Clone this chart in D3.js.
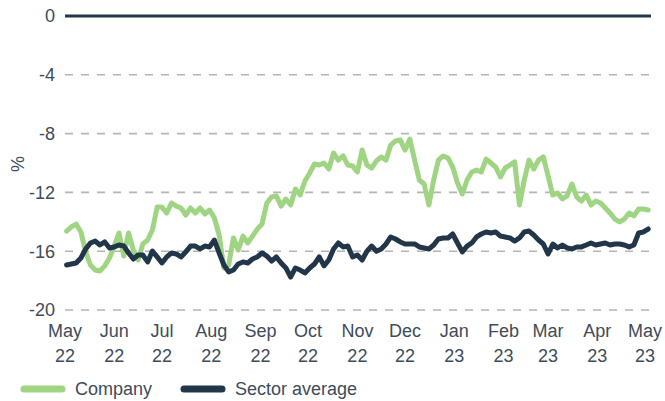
<!DOCTYPE html>
<html><head><meta charset="utf-8">
<script src="https://cdn.jsdelivr.net/npm/d3@7"></script>
<style>
html,body{margin:0;padding:0;background:#fff;}
svg text{font-family:"Liberation Sans",Arial,sans-serif;fill:#3e4b59;}
</style></head>
<body>
<svg id="c" width="665" height="401"></svg>
<script>
// Data: values sampled every 3 days starting 2 May 2022
const startDate = "2022-05-02";
const stepDays = 3;
const company = [-14.63,-14.35,-14.15,-14.69,-16.05,-16.94,-17.28,-17.35,-17.0,-16.46,
-15.65,-14.76,-16.33,-14.76,-15.92,-16.6,-15.5,-15.24,-14.56,-13.0,
-13.0,-13.4,-12.72,-12.93,-13.06,-13.54,-13.06,-13.4,-13.06,-13.47,
-13.2,-13.74,-14.9,-17.14,-16.94,-15.1,-15.92,-14.97,-15.44,-14.97,
-14.5,-14.15,-12.72,-12.31,-12.24,-12.93,-12.45,-12.86,-11.77,-12.18,
-11.22,-10.68,-10.07,-10.14,-10.0,-10.41,-9.32,-9.8,-9.52,-10.14,
-10.2,-10.61,-9.12,-10.14,-10.34,-9.86,-9.59,-9.8,-8.78,-8.5,
-8.44,-9.12,-8.37,-9.8,-11.16,-11.43,-12.86,-11.16,-9.8,-9.52,
-9.66,-10.27,-11.36,-12.11,-11.16,-10.61,-10.48,-10.61,-9.73,-10.0,
-10.27,-10.95,-10.34,-10.14,-9.93,-12.86,-11.16,-9.8,-10.41,-9.8,
-9.59,-10.88,-12.18,-12.04,-12.45,-12.24,-11.43,-12.31,-12.59,-12.18,
-12.86,-12.59,-12.72,-13.06,-13.4,-13.81,-14.01,-13.81,-13.4,-13.6,
-13.13,-13.13,-13.2];
const sector = [-16.94,-16.87,-16.8,-16.46,-15.85,-15.44,-15.31,-15.58,-15.37,-15.78,
-15.71,-15.58,-15.65,-16.12,-16.53,-16.26,-16.26,-16.73,-15.99,-16.39,
-16.8,-16.39,-16.12,-16.19,-16.39,-16.05,-15.65,-15.65,-15.85,-15.65,
-15.71,-15.24,-16.12,-16.94,-17.41,-17.28,-16.87,-16.73,-16.8,-16.53,
-16.39,-16.12,-16.33,-16.67,-16.39,-16.8,-17.14,-17.76,-17.14,-17.28,
-17.48,-17.14,-16.87,-16.39,-17.0,-16.6,-15.85,-15.44,-15.71,-15.65,
-16.39,-16.26,-16.6,-16.0,-15.65,-16.0,-15.85,-15.51,-15.03,-15.17,
-15.37,-15.51,-15.51,-15.51,-15.71,-15.78,-15.85,-15.58,-15.17,-15.1,
-15.1,-14.83,-15.44,-16.05,-15.65,-15.44,-15.03,-14.83,-14.69,-14.76,
-14.69,-14.97,-15.03,-15.1,-15.31,-15.1,-14.69,-14.63,-14.9,-15.24,
-15.51,-16.19,-15.51,-15.78,-15.58,-15.78,-15.85,-15.71,-15.71,-15.58,
-15.44,-15.58,-15.51,-15.44,-15.58,-15.51,-15.51,-15.58,-15.71,-15.58,
-14.76,-14.69,-14.49];
const yTicks = [0,-4,-8,-12,-16,-20];
const monthTicks = ["2022-05-01","2022-06-01","2022-07-01","2022-08-01","2022-09-01","2022-10-01",
"2022-11-01","2022-12-01","2023-01-01","2023-02-01","2023-03-01","2023-04-01","2023-05-01"];
const seriesNames = ["Company","Sector average"];
const colors = ["#9fd482","#22364a"];

const parse = d3.timeParse("%Y-%m-%d");
const t0 = parse(startDate);
const dates = company.map((_, i) => d3.timeDay.offset(t0, i * stepDays));

const svg = d3.select("#c");
const x = d3.scaleTime().domain([parse("2022-05-01"), parse("2023-05-01")]).range([65, 645]);
const y = d3.scaleLinear().domain([-20, 0]).range([310, 16]);

// grid
svg.append("g").selectAll("line").data(yTicks.filter(d => d !== 0)).join("line")
  .attr("x1", 65).attr("x2", 651)
  .attr("y1", d => y(d)).attr("y2", d => y(d))
  .attr("stroke", "#b4b4b4").attr("stroke-width", 1.6).attr("stroke-dasharray", "8,8");

// y tick labels
svg.append("g").selectAll("text").data(yTicks).join("text")
  .attr("x", 55).attr("y", d => y(d)).attr("dy", "0.36em")
  .attr("text-anchor", "end").attr("font-size", 18).text(d => d);

svg.append("text").attr("transform", "translate(24,164) rotate(-90)")
  .attr("text-anchor", "middle").attr("font-size", 18).text("%");

// x tick labels
const xt = svg.append("g").selectAll("g").data(monthTicks.map(parse)).join("g")
  .attr("transform", d => `translate(${x(d)},0)`);
xt.append("text").attr("y", 337).attr("text-anchor", "middle").attr("font-size", 18)
  .text(d => d3.timeFormat("%b")(d));
xt.append("text").attr("y", 362).attr("text-anchor", "middle").attr("font-size", 18)
  .text(d => d3.timeFormat("%y")(d));

// lines
const line = d3.line().x((d, i) => x(dates[i])).y(d => y(d)).curve(d3.curveLinear);
svg.append("path").datum(company).attr("d", line).attr("fill", "none")
  .attr("stroke", colors[0]).attr("stroke-width", 5).attr("stroke-linejoin", "round").attr("stroke-linecap", "round");
svg.append("path").datum(sector).attr("d", line).attr("fill", "none")
  .attr("stroke", colors[1]).attr("stroke-width", 5).attr("stroke-linejoin", "round").attr("stroke-linecap", "round");

// zero line
svg.append("line").attr("x1", 65).attr("x2", 651).attr("y1", y(0)).attr("y2", y(0))
  .attr("stroke", "#22364a").attr("stroke-width", 3);

// legend
const lg = svg.append("g").selectAll("g").data(seriesNames).join("g")
  .attr("transform", (d, i) => `translate(${i === 0 ? 24 : 184},389)`);
lg.append("line").attr("x1", 0).attr("x2", 38).attr("y1", 0).attr("y2", 0)
  .attr("stroke", (d, i) => colors[i]).attr("stroke-width", 7).attr("stroke-linecap", "round");
lg.append("text").attr("x", 51).attr("y", 0).attr("dy", "0.36em").attr("font-size", 18).text(d => d);
</script>
</body></html>
